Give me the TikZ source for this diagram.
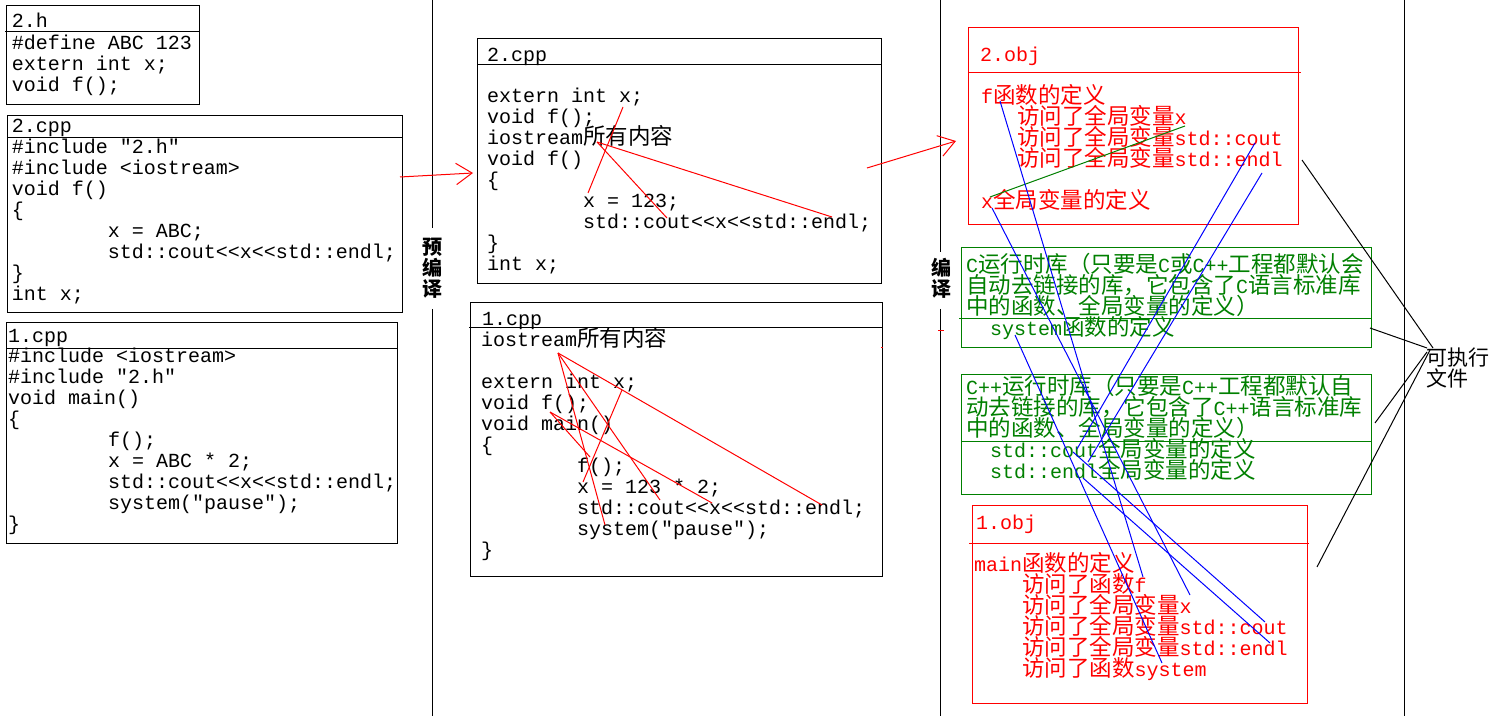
\documentclass[tikz,border=0pt]{standalone}
\usepackage{fontspec}
\setmonofont{Liberation Mono}
\newfontfamily\cjk{Noto Sans CJK SC}[Scale=1.125]
\newfontfamily\cjklbl{Noto Sans CJK SC}
\usetikzlibrary{arrows.meta}

\definecolor{objred}{RGB}{255,0,0}
\definecolor{libgreen}{RGB}{0,128,0}
\definecolor{linkblue}{RGB}{0,0,255}

% one pixel of the drawing grid
\newdimen\pxu \pxu=0.75pt
\newcommand\codefont{\ttfamily\fontsize{15pt}{15.75pt}\selectfont}
\newcommand\zh[1]{{\cjk #1}}
\newcommand\indpx[1]{\hskip #1\pxu\relax}
% stacked lines on a fixed 21px pitch; the first line carries the baseline
\newcommand\coderows[1]{\vtop{\lineskiplimit=-\maxdimen\lineskip=0pt\baselineskip=15.75pt\halign{##\hfil\cr#1\crcr}}}
\newcommand\centrows[1]{\vtop{\lineskiplimit=-\maxdimen\lineskip=0pt\baselineskip=15.75pt\halign{\hfil##\hfil\cr#1\crcr}}}

\begin{document}
\begin{tikzpicture}[x=0.75pt,y=-0.75pt,line width=0.75pt,
  txt/.style={anchor=base west, inner sep=0pt, outer sep=0pt, font=\codefont},
  lbl/.style={anchor=base, inner sep=0pt, outer sep=0pt, font=\cjklbl\bfseries\fontsize{15pt}{15.75pt}\selectfont},
  exe/.style={anchor=base west, inner sep=0pt, outer sep=0pt, font=\cjklbl\fontsize{15.75pt}{15.75pt}\selectfont},
  flow/.style={objred, -{Straight Barb[length=12pt,width=16pt]}},
  redline/.style={objred},
  blueline/.style={linkblue},
  greenline/.style={libgreen},
  blackline/.style={black}]

\fill[white] (0,0) rectangle (1500,716);
\useasboundingbox (0,0) rectangle (1500,716);

% ---------- source files ----------
\draw (6,6) rectangle (199,105);
\draw (5,32) -- (199,32);
\node[txt] (hT) at (12,28) {2.h};
\node[txt] (hB) at (12,50) {\coderows{\#define ABC 123\cr extern int x;\cr void f();}};

\draw (7,116) rectangle (402,313);
\draw (7,138) -- (402,138);
\node[txt] (cppT) at (12,133) {2.cpp};
\node[txt] (cppB) at (12,154) {\coderows{\#include "2.h"\cr \#include <iostream>\cr void f()\cr \{\cr \indpx{96}x = ABC;\cr \indpx{96}std::cout<<x<<std::endl;\cr \}\cr int x;}};

\draw (6,323) rectangle (397,543);
\draw (6,349) -- (397,349);
\node[txt] (mainT) at (8,343) {1.cpp};
\node[txt] (mainB) at (8,363) {\coderows{\#include <iostream>\cr \#include "2.h"\cr void main()\cr \{\cr \indpx{100}f();\cr \indpx{100}x = ABC * 2;\cr \indpx{100}std::cout<<x<<std::endl;\cr \indpx{100}system("pause");\cr \}}};

% ---------- stage separators ----------
\draw (432,0) -- (432,228);
\draw (432,309) -- (432,716);
\node[lbl] (pre) at (432,255) {\centrows{预\cr 编\cr 译}};
\draw (940,0) -- (940,252);
\draw (940,309) -- (940,716);
\node[lbl] (cmp) at (941,276) {\centrows{编\cr 译}};
\draw (1404,0) -- (1404,716);

% ---------- preprocessed files ----------
\draw (477,39) rectangle (881,284);
\draw (477,65) -- (882,65);
\node[txt] (p2T) at (487,62) {2.cpp};
\node[txt] (p2B) at (487,103) {\coderows{extern int x;\cr void f();\cr iostream\zh{所有内容}\cr void f()\cr \{\cr \indpx{96}x = 123;\cr \indpx{96}std::cout<<x<<std::endl;\cr \}\cr int x;}};

\draw (470,303) rectangle (882,576);
\draw (469,328) -- (882,328);
\node[txt] (p1T) at (482,326) {1.cpp};
\node[txt] (p1B) at (481,347) {\coderows{iostream\zh{所有内容}\cr \cr extern int x;\cr void f();\cr void main()\cr \{\cr \indpx{96}f();\cr \indpx{96}x = 123 * 2;\cr \indpx{96}std::cout<<x<<std::endl;\cr \indpx{96}system("pause");\cr \}}};

% ---------- object files and runtime libraries ----------
\draw[objred] (968,28) rectangle (1298,225);
\draw[objred] (968,73) -- (1301,73);
\node[txt,text=objred] (o2T) at (980,62) {2.obj};
\node[txt,text=objred] (o2B) at (981,104) {\coderows{f\zh{函数的定义}\cr \indpx{36}\zh{访问了全局变量}x\cr \indpx{36}\zh{访问了全局变量}std::cout\cr \indpx{36}\zh{访问了全局变量}std::endl\cr \cr x\zh{全局变量的定义}}};

\draw[libgreen] (961,248) rectangle (1371,348);
\draw[libgreen] (959,319) -- (1371,319);
\node[txt,text=libgreen] (crt) at (966,273) {\coderows{C\zh{运行时库（只要是}C\zh{或}C++\zh{工程都默认会}\cr \zh{自动去链接的库，它包含了}C\zh{语言标准库}\cr \zh{中的函数、全局变量的定义）}\cr \indpx{24}system\zh{函数的定义}}};

\draw[libgreen] (961,375) rectangle (1371,495);
\draw[libgreen] (961,442) -- (1371,442);
\node[txt,text=libgreen] (cpprt) at (966,395) {\coderows{C++\zh{运行时库（只要是}C++\zh{工程都默认自}\cr \zh{动去链接的库，它包含了}C++\zh{语言标准库}\cr \zh{中的函数、全局变量的定义）}\cr \indpx{24}std::cout\zh{全局变量的定义}\cr \indpx{24}std::endl\zh{全局变量的定义}}};

\draw[objred] (972,506) rectangle (1307,703);
\draw[objred] (969,543) -- (1309,543);
\node[txt,text=objred] (o1T) at (976,529) {1.obj};
\node[txt,text=objred] (o1B) at (974,571) {\coderows{main\zh{函数的定义}\cr \indpx{48}\zh{访问了函数}f\cr \indpx{48}\zh{访问了全局变量}x\cr \indpx{48}\zh{访问了全局变量}std::cout\cr \indpx{48}\zh{访问了全局变量}std::endl\cr \indpx{48}\zh{访问了函数}system}};

\node[exe] (exe) at (1426,366) {\coderows{可执行\cr 文件}};

% ---------- stage arrows ----------
\coordinate (pp0) at (400,177);
\coordinate (pp1) at (473,173);
\draw[flow] (pp0) -- (pp1);
\coordinate (cc0) at (867,168);
\coordinate (cc1) at (956,141);
\draw[flow] (cc0) -- (cc1);
\draw[redline] (938,331) -- (944,331);
\draw[redline] (881,348) -- (883,348);

% ---------- symbol uses inside the preprocessed 2.cpp ----------
\coordinate (q2x) at (623,107);
\coordinate (q2xu) at (588,193);
\coordinate (q2io) at (597,142);
\coordinate (q2cout) at (667,218);
\coordinate (q2endl) at (832,217);
\draw[redline] (q2x) -- (q2xu);
\draw[redline] (q2io) -- (q2cout);
\draw[redline] (q2io) -- (q2endl);

% ---------- symbol uses inside the preprocessed 1.cpp ----------
\coordinate (q1io) at (558,353);
\coordinate (q1endl) at (822,505);
\coordinate (q1cout) at (660,500);
\coordinate (q1sys) at (605,525);
\coordinate (q1x) at (622,390);
\coordinate (q1xu) at (583,482);
\coordinate (q1f) at (550,412);
\coordinate (q1fu) at (590,457);
\coordinate (q1xo) at (712,503);
\draw[redline] (q1io) -- (q1endl);
\draw[redline] (q1io) -- (q1cout);
\draw[redline] (q1io) -- (q1sys);
\draw[redline] (q1x) -- (q1xu);
\draw[redline] (q1f) -- (q1fu);
\draw[redline] (q1f) -- (q1xo);

% ---------- linking: 2.obj internal reference ----------
\coordinate (g0) at (990,197);
\coordinate (g1) at (1185,126);
\draw[greenline] (g0) -- (g1);

% ---------- linking: resolved references ----------
\coordinate (fdef) at (1000,101);
\coordinate (fuse) at (1143,577);
\coordinate (xdef) at (992,208);
\coordinate (xuse) at (1190,595);
\coordinate (o2cout) at (1255,143);
\coordinate (libcout) at (1077,449);
\coordinate (o2endl) at (1262,173);
\coordinate (libendl) at (1088,462);
\coordinate (sysdef) at (1015,335);
\coordinate (sysuse) at (1162,663);
\coordinate (coutdef) at (1073,452);
\coordinate (o1cout) at (1265,622);
\coordinate (endldef) at (1083,478);
\coordinate (o1endl) at (1270,643);
\draw[blueline] (fdef) -- (fuse);
\draw[blueline] (xdef) -- (xuse);
\draw[blueline] (o2cout) -- (libcout);
\draw[blueline] (o2endl) -- (libendl);
\draw[blueline] (sysdef) -- (sysuse);
\draw[blueline] (coutdef) -- (o1cout);
\draw[blueline] (endldef) -- (o1endl);

% ---------- everything goes into the executable ----------
\coordinate (k1) at (1302,160);
\coordinate (k2) at (1370,328);
\coordinate (k3) at (1375,423);
\coordinate (k4) at (1317,567);
\coordinate (e1) at (1433,348);
\coordinate (e2) at (1427,348);
\coordinate (e3) at (1427,352);
\coordinate (e4) at (1430,350);
\draw[blackline] (k1) -- (e1);
\draw[blackline] (k2) -- (e2);
\draw[blackline] (k3) -- (e3);
\draw[blackline] (k4) -- (e4);
\end{tikzpicture}
\end{document}
